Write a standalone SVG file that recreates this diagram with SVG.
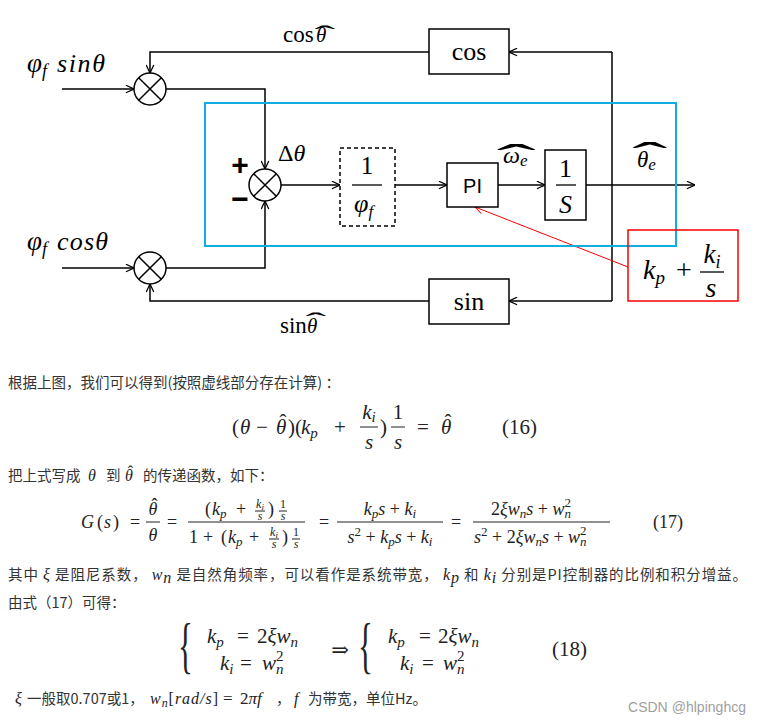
<svg xmlns="http://www.w3.org/2000/svg" width="761" height="726" viewBox="0 0 761 726">
<defs>
<marker id="ah" viewBox="0 0 10 10" refX="9.5" refY="5" markerWidth="9" markerHeight="9" markerUnits="userSpaceOnUse" orient="auto"><path d="M0.5,0.8 L9.5,5 L0.5,9.2" fill="none" stroke="#000" stroke-width="1.4"/></marker>
<marker id="ahr" viewBox="0 0 10 10" refX="9.5" refY="5" markerWidth="9" markerHeight="9" markerUnits="userSpaceOnUse" orient="auto"><path d="M0.5,0.8 L9.5,5 L0.5,9.2" fill="none" stroke="#f00" stroke-width="1.1"/></marker>
<style>
.ln{fill:none;stroke:#000;stroke-width:1.5}
.blk{fill:#fff;stroke:#000;stroke-width:1.5}
.sr{font-family:"Liberation Serif","DejaVu Serif",serif;fill:#000}
.it{font-style:italic}
.up{font-style:normal}
.cn{font-family:"Noto Sans CJK SC","Noto Sans",sans-serif;font-size:14.5px;fill:#333}
.m{font-family:"Liberation Serif","DejaVu Serif",serif;fill:#222}
.mi{font-family:"Liberation Serif","DejaVu Serif",serif;font-style:italic;fill:#222;font-size:16px}
.fl{stroke:#222;stroke-width:1}
.mid{text-anchor:middle}
</style>
</defs>
<rect width="761" height="726" fill="#fff"/>

<g id="connectors">
<g class="ln">
<path d="M62,89 H134" marker-end="url(#ah)"/>
<path d="M62,268 H134" marker-end="url(#ah)"/>
<path d="M166,89 H265 V169" marker-end="url(#ah)"/>
<path d="M166,268 H265 V201" marker-end="url(#ah)"/>
<path d="M281,185 H340" marker-end="url(#ah)"/>
<path d="M389,185 H447" marker-end="url(#ah)"/>
<path d="M498,185 H545" marker-end="url(#ah)"/>
<path d="M586,185 H695" marker-end="url(#ah)"/>
<path d="M612,52 V301"/>
<path d="M612,52 H509" marker-end="url(#ah)"/>
<path d="M612,301 H509" marker-end="url(#ah)"/>
<path d="M429,52 H150 V73" marker-end="url(#ah)"/>
<path d="M429,301 H150 V284" marker-end="url(#ah)"/>
</g>
<path d="M628,267 L475,207" fill="none" stroke="#f00" stroke-width="1" marker-end="url(#ahr)"/>
</g>

<g id="cyan-frame"><rect x="205" y="103" width="471" height="143" fill="none" stroke="#12aee3" stroke-width="2"/></g>

<g id="label-cos-theta" class="sr"><text x="283" y="42" font-size="23">cos<tspan class="it" x="316" font-size="21">θ</tspan><tspan x="314.3" y="41.5" font-size="24" textLength="21" lengthAdjust="spacingAndGlyphs">ˆ</tspan></text></g>
<g id="label-sin-theta" class="sr"><text x="280" y="333" font-size="23">sin<tspan class="it" x="307" font-size="21">θ</tspan><tspan x="305.3" y="328.5" font-size="24" textLength="21" lengthAdjust="spacingAndGlyphs">ˆ</tspan></text></g>

<g id="input-sin" class="sr it"><text x="27" y="72" font-size="27">φ<tspan font-size="18" dy="5">f</tspan><tspan x="57" dy="-5" font-size="26" textLength="48">sinθ</tspan></text></g>
<g id="input-cos" class="sr it"><text x="27" y="250" font-size="27">φ<tspan font-size="18" dy="5">f</tspan><tspan x="57" dy="-5" font-size="26" textLength="51">cosθ</tspan></text></g>

<g id="mul-top"><circle cx="150" cy="89" r="16" class="blk"/><path d="M138.7,77.7 L161.3,100.3 M161.3,77.7 L138.7,100.3" class="ln"/></g>
<g id="mul-bottom"><circle cx="150" cy="268" r="16" class="blk"/><path d="M138.7,256.7 L161.3,279.3 M161.3,256.7 L138.7,279.3" class="ln"/></g>
<g id="sum"><circle cx="265" cy="185" r="16" class="blk"/><path d="M253.7,173.7 L276.3,196.3 M276.3,173.7 L253.7,196.3" class="ln"/>
<text x="240" y="175" font-family="Liberation Sans,sans-serif" font-weight="bold" font-size="30" text-anchor="middle">+</text>
<text x="240" y="209" font-family="Liberation Sans,sans-serif" font-weight="bold" font-size="30" text-anchor="middle">−</text>
<text x="278" y="161" class="sr" font-size="24">Δ<tspan class="it">θ</tspan></text>
</g>

<g id="cos-block"><rect x="429" y="29" width="80" height="45" class="blk"/><text x="469" y="60" class="sr mid" font-size="26">cos</text></g>
<g id="sin-block"><rect x="429" y="279" width="80" height="45" class="blk"/><text x="469" y="310" class="sr mid" font-size="26">sin</text></g>

<g id="gain-block"><rect x="340" y="148" width="55" height="78" fill="#fff" stroke="#000" stroke-width="1.5" stroke-dasharray="4 3"/>
<text x="367" y="174" class="sr mid" font-size="25">1</text>
<line x1="352" y1="185" x2="382" y2="185" stroke="#000" stroke-width="1.3"/>
<text x="354" y="212" class="sr it" font-size="26">φ<tspan font-size="17" dy="5">f</tspan></text>
</g>

<g id="pi-block"><rect x="447" y="163" width="51" height="44" class="blk"/><text x="472.5" y="193" font-family="Liberation Sans,sans-serif" font-size="20" text-anchor="middle">PI</text></g>

<g id="omega-label" class="sr"><text x="503" y="163" class="it" font-size="24">ω<tspan font-size="17" dy="3">e</tspan><tspan class="up" x="496.7" y="172" font-size="40" textLength="39" lengthAdjust="spacingAndGlyphs">ˆ</tspan></text></g>

<g id="integrator"><rect x="545" y="150" width="41" height="70" class="blk"/>
<text x="565.5" y="177" class="sr mid" font-size="26">1</text>
<line x1="556" y1="185" x2="576" y2="185" stroke="#000" stroke-width="1.3"/>
<text x="565.5" y="213" class="sr it mid" font-size="26">S</text>
</g>

<g id="theta-e-label" class="sr"><text x="637" y="167" class="it" font-size="23">θ<tspan font-size="17" dy="3">e</tspan><tspan class="up" x="632.3" y="170" font-size="40" textLength="35" lengthAdjust="spacingAndGlyphs">ˆ</tspan></text></g>

<g id="pi-formula"><rect x="628" y="230" width="110" height="71" fill="none" stroke="#f00" stroke-width="1.5"/>
<text x="643" y="279" class="sr it" font-size="28">k<tspan font-size="19" dy="5">p</tspan></text>
<text x="684" y="279" class="sr mid" font-size="28">+</text>
<text x="712" y="263" class="sr it mid" font-size="27">k<tspan font-size="18" dy="5">i</tspan></text>
<line x1="700" y1="272" x2="724" y2="272" stroke="#000" stroke-width="1.3"/>
<text x="711" y="297" class="sr it mid" font-size="28">s</text>
</g>

<g id="text-body">
<text class="cn" x="8" y="388" textLength="332">根据上图，我们可以得到(按照虚线部分存在计算) ：</text>

<g id="eq16" class="m" font-size="21">
<text x="232" y="434">(</text>
<text x="240" y="434" font-style="italic">θ</text>
<text x="262" y="434" text-anchor="middle">−</text>
<text x="276" y="434"><tspan font-style="italic">θ</tspan><tspan x="279.5" y="429">ˆ</tspan></text>
<text x="288" y="434">)(</text>
<text x="301" y="434" font-style="italic">k<tspan font-size="15" dy="4">p</tspan></text>
<text x="340" y="434" text-anchor="middle">+</text>
<text x="369" y="419" font-style="italic" text-anchor="middle">k<tspan font-size="15" dy="3">i</tspan></text>
<line x1="360" y1="427" x2="378" y2="427" class="fl"/>
<text x="369" y="449" font-style="italic" text-anchor="middle">s</text>
<text x="380" y="434">)</text>
<text x="398" y="419" text-anchor="middle">1</text>
<line x1="391" y1="427" x2="405" y2="427" class="fl"/>
<text x="398" y="449" font-style="italic" text-anchor="middle">s</text>
<text x="423" y="434" text-anchor="middle">=</text>
<text x="441" y="434"><tspan font-style="italic">θ</tspan><tspan x="444.5" y="429">ˆ</tspan></text>
<text x="502" y="434">(16)</text>
</g>

<text class="cn" x="8" y="481">把上式写成</text>
<text class="mi" x="88" y="481">θ</text>
<text class="cn" x="106" y="481">到</text>
<text class="mi" x="125" y="481">θ<tspan class="up" x="127.7" y="477">ˆ</tspan></text>
<text class="cn" x="143" y="481">的传递函数，如下：</text>

<g id="eq17" class="m" font-size="18">
<text y="528"><tspan x="81" font-style="italic">G</tspan><tspan x="97">(</tspan><tspan x="104" font-style="italic">s</tspan><tspan x="113">)</tspan></text>
<text x="135" y="528" text-anchor="middle">=</text>
<text x="148.5" y="515"><tspan font-style="italic">θ</tspan><tspan x="151.5" y="510.8">ˆ</tspan></text>
<line x1="146" y1="522" x2="160" y2="522" class="fl"/>
<text x="153" y="541" font-style="italic" text-anchor="middle">θ</text>
<text x="172" y="528" text-anchor="middle">=</text>
<line x1="188" y1="522" x2="305" y2="522" class="fl"/>
<text x="205" y="515">(</text>
<text x="212" y="515" font-style="italic">k<tspan font-size="13" dy="3">p</tspan></text>
<text x="241" y="515" text-anchor="middle">+</text>
<text x="260" y="508" font-style="italic" text-anchor="middle" font-size="12">k<tspan font-size="9" dy="2">i</tspan></text>
<line x1="255" y1="511" x2="265" y2="511" class="fl" stroke-width="0.8"/>
<text x="260" y="520" font-style="italic" text-anchor="middle" font-size="12">s</text>
<text x="268" y="515">)</text>
<text x="283" y="508" text-anchor="middle" font-size="12">1</text>
<line x1="279" y1="511" x2="287" y2="511" class="fl" stroke-width="0.8"/>
<text x="283" y="520" font-style="italic" text-anchor="middle" font-size="12">s</text>
<text x="189" y="543">1</text>
<text x="208" y="543" text-anchor="middle">+</text>
<text x="221" y="543">(</text>
<text x="228" y="543" font-style="italic">k<tspan font-size="13" dy="3">p</tspan></text>
<text x="254" y="543" text-anchor="middle">+</text>
<text x="274" y="536" font-style="italic" text-anchor="middle" font-size="12">k<tspan font-size="9" dy="2">i</tspan></text>
<line x1="269" y1="539" x2="279" y2="539" class="fl" stroke-width="0.8"/>
<text x="274" y="548" font-style="italic" text-anchor="middle" font-size="12">s</text>
<text x="282" y="543">)</text>
<text x="296" y="536" text-anchor="middle" font-size="12">1</text>
<line x1="292" y1="539" x2="300" y2="539" class="fl" stroke-width="0.8"/>
<text x="296" y="548" font-style="italic" text-anchor="middle" font-size="12">s</text>
<text x="324" y="528" text-anchor="middle">=</text>
<line x1="337" y1="522" x2="443" y2="522" class="fl"/>
<text x="390" y="515" text-anchor="middle"><tspan font-style="italic">k</tspan><tspan font-style="italic" font-size="13" dy="3">p</tspan><tspan font-style="italic" dy="-3">s</tspan> + <tspan font-style="italic">k</tspan><tspan font-style="italic" font-size="13" dy="3">i</tspan></text>
<text x="390" y="543" text-anchor="middle"><tspan font-style="italic">s</tspan><tspan font-size="13" dy="-7">2</tspan><tspan dy="7"> + </tspan><tspan font-style="italic">k</tspan><tspan font-style="italic" font-size="13" dy="3">p</tspan><tspan font-style="italic" dy="-3">s</tspan> + <tspan font-style="italic">k</tspan><tspan font-style="italic" font-size="13" dy="3">i</tspan></text>
<text x="456" y="528" text-anchor="middle">=</text>
<line x1="473" y1="522" x2="610" y2="522" class="fl"/>
<text x="491" y="515">2<tspan font-style="italic">ξw</tspan><tspan font-style="italic" font-size="13" dy="3">n</tspan><tspan font-style="italic" dy="-3">s</tspan> + <tspan font-style="italic">w</tspan><tspan font-style="italic" font-size="13" dy="3">n</tspan><tspan font-size="13" dx="-6.5" dy="-11">2</tspan></text>
<text x="474" y="543"><tspan font-style="italic">s</tspan><tspan font-size="13" dy="-7">2</tspan><tspan dy="7"> + 2</tspan><tspan font-style="italic">ξw</tspan><tspan font-style="italic" font-size="13" dy="3">n</tspan><tspan font-style="italic" dy="-3">s</tspan> + <tspan font-style="italic">w</tspan><tspan font-style="italic" font-size="13" dy="3">n</tspan><tspan font-size="13" dx="-6.5" dy="-11">2</tspan></text>
<text x="653" y="528">(17)</text>
</g>

<text class="cn" x="8" y="580" textLength="739">其中 <tspan class="mi">ξ</tspan> 是阻尼系数，  <tspan class="mi">w</tspan><tspan class="mi" font-size="11" dy="3">n</tspan><tspan dy="-3"> 是自然角频率，可以看作是系统带宽，  </tspan><tspan class="mi">k</tspan><tspan class="mi" font-size="11" dy="3">p</tspan><tspan dy="-3"> 和 </tspan><tspan class="mi">k</tspan><tspan class="mi" font-size="11" dy="3">i</tspan><tspan dy="-3"> 分别是PI控制器的比例和积分增益。</tspan></text>
<text class="cn" x="8" y="608">由式（17）可得：</text>

<g id="eq18" class="m" font-size="21">
<text transform="translate(178,666) scale(0.5,1)" font-size="62">{</text>
<text x="207" y="643" font-style="italic">k<tspan font-size="15" dy="4">p</tspan></text>
<text x="243" y="643" text-anchor="middle">=</text>
<text x="257" y="643">2<tspan font-style="italic">ξw</tspan><tspan font-style="italic" font-size="15" dy="4">n</tspan></text>
<text x="220" y="670" font-style="italic">k<tspan font-size="15" dy="4">i</tspan></text>
<text x="246" y="670" text-anchor="middle">=</text>
<text x="262" y="670"><tspan font-style="italic">w</tspan><tspan font-style="italic" font-size="15" dy="4">n</tspan><tspan font-size="15" dx="-7.5" dy="-13">2</tspan></text>
<text x="340" y="657" text-anchor="middle">⇒</text>
<text transform="translate(358,666) scale(0.5,1)" font-size="62">{</text>
<text x="388" y="643" font-style="italic">k<tspan font-size="15" dy="4">p</tspan></text>
<text x="425" y="643" text-anchor="middle">=</text>
<text x="438" y="643">2<tspan font-style="italic">ξw</tspan><tspan font-style="italic" font-size="15" dy="4">n</tspan></text>
<text x="400" y="670" font-style="italic">k<tspan font-size="15" dy="4">i</tspan></text>
<text x="428" y="670" text-anchor="middle">=</text>
<text x="443" y="670"><tspan font-style="italic">w</tspan><tspan font-style="italic" font-size="15" dy="4">n</tspan><tspan font-size="15" dx="-7.5" dy="-13">2</tspan></text>
<text x="552" y="656">(18)</text>
</g>

<text class="mi" x="15" y="704">ξ</text>
<text class="cn" x="27" y="704">一般取0.707或1，</text>
<text class="mi" x="150" y="704" font-size="17" textLength="68">w<tspan font-size="12" dy="3">n</tspan><tspan class="up" dy="-3">[</tspan>rad/s<tspan class="up">]</tspan></text>
<text class="m" x="223" y="704" font-size="17">=</text>
<text class="m" x="240" y="704" font-size="17">2<tspan font-style="italic">πf</tspan></text>
<text class="cn" x="276" y="704">，</text>
<text class="mi" x="294" y="704" font-size="17">f</text>
<text class="cn" x="308" y="704">为带宽，单位Hz。</text>
<text x="628" y="712" font-family="Liberation Sans,Noto Sans,sans-serif" font-size="14" fill="#a0a0a0" textLength="118">CSDN @hlpinghcg</text>
</g>
</svg>
